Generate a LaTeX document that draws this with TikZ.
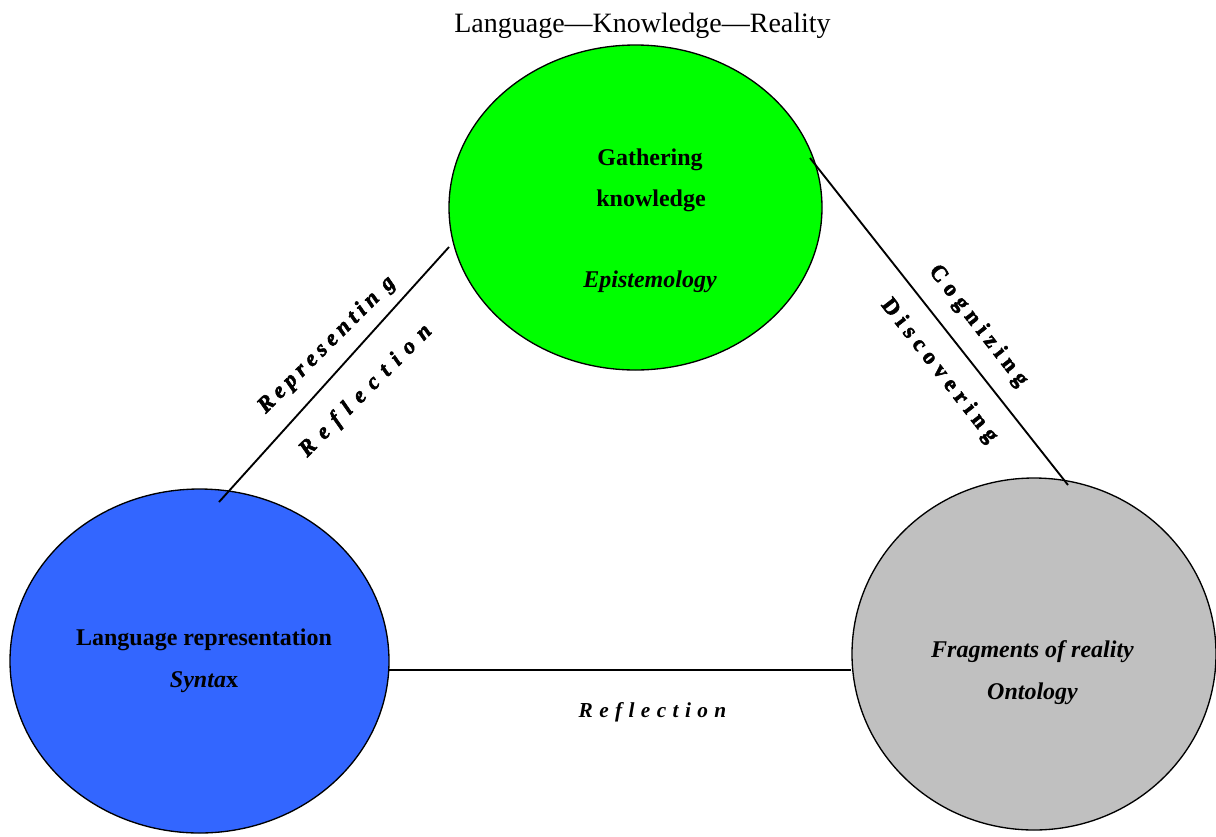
\documentclass[tikz,border=0pt]{standalone}
\usepackage{fontspec}
\setmainfont{Liberation Serif}
\usetikzlibrary{shapes.geometric}
\definecolor{kgreen}{RGB}{0,255,0}
\definecolor{kblue}{RGB}{51,102,255}
\definecolor{kgray}{RGB}{192,192,192}
\begin{document}
\begin{tikzpicture}[x=0.75pt,y=-0.75pt,
  blob/.style={ellipse, draw=black, line width=1pt, inner sep=0pt},
  link/.style={draw=black, line width=1.4pt},
  lbl/.style={font=\fontsize{18}{20}\selectfont\bfseries, anchor=base, inner sep=0pt},
  ilbl/.style={font=\fontsize{18}{20}\selectfont\bfseries\itshape, anchor=base, inner sep=0pt},
  ttl/.style={font=\fontsize{21}{24}\selectfont, anchor=base, inner sep=0pt},
  edgelbl/.style={font=\fontsize{17}{20}\selectfont\bfseries, inner sep=0pt}
]
\useasboundingbox (0,0) rectangle (1216,836);

% circles
\node[blob, fill=kgreen, minimum width=279.75pt, minimum height=243.75pt] (green) at (635.5,207.5) {};
\node[blob, fill=kblue, minimum width=284.25pt, minimum height=258pt] (blue) at (199.5,661) {};
\node[blob, fill=kgray, minimum width=273pt, minimum height=264pt] (gray) at (1034,654) {};

% connector ends
\coordinate (gL) at (449,247);
\coordinate (bT) at (219,502);
\coordinate (gR) at (810,158);
\coordinate (rT) at (1068,485);
\coordinate (bR) at (388,670);
\coordinate (rL) at (851,670);

\draw[link] (gL) -- (bT);
\draw[link] (gR) -- (rT);
\draw[link] (bR) -- (rL);

% title
\node[ttl] (title) at (642.5,32) {Language—Knowledge—Reality};

% green text
\node[lbl] (g1) at (650,165) {Gathering};
\node[lbl] (g2) at (651,206) {knowledge};
\node[ilbl] (g3) at (650,287) {Epistemology};

% blue text
\node[lbl] (b1) at (204,645) {Language representation};
\node[lbl] (b2) at (204,687) {\textit{Synta}x};

% gray text
\node[ilbl] (r1) at (1032.5,657) {Fragments of reality};
\node[ilbl] (r2) at (1032.5,699) {Ontology};

% edge labels
\node[edgelbl, rotate=45] (e1) at (327,345) {\itshape\addfontfeature{LetterSpace=22,FakeBold=2.5}Representin g};
\node[edgelbl, rotate=45] (e2) at (366,391) {\itshape\addfontfeature{LetterSpace=40,FakeBold=2.5}Reflection};
\node[edgelbl, rotate=-52] (e3) at (978,326) {\addfontfeature{LetterSpace=27,FakeBold=2.5}Cognizing};
\node[edgelbl, rotate=-52] (e4) at (939,371) {\addfontfeature{LetterSpace=27,FakeBold=2.5}Discovering};
\node[font=\fontsize{16}{20}\selectfont\bfseries\itshape, anchor=base, inner sep=0pt] (e5) at (652.5,717) {\addfontfeature{LetterSpace=30}Reflection};
\end{tikzpicture}
\end{document}
